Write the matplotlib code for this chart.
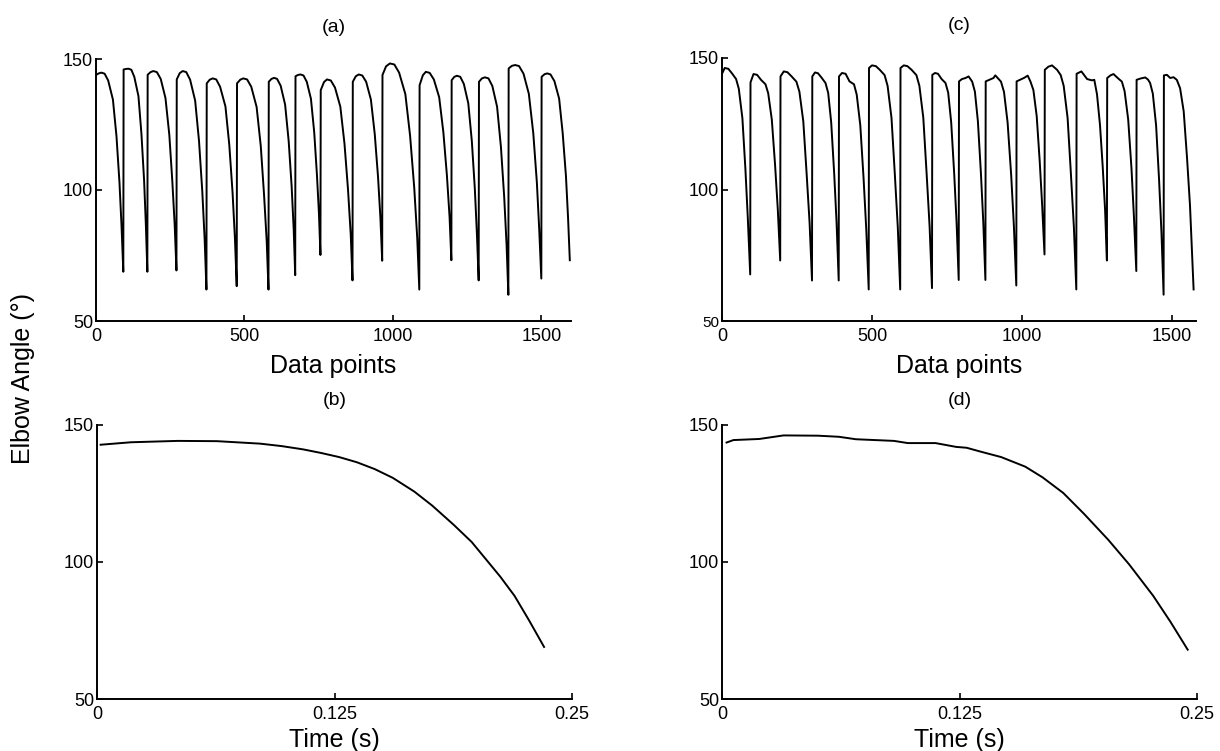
import numpy as np
import matplotlib.pyplot as plt

plt.rcParams['font.family'] = ['Liberation Sans', 'DejaVu Sans']

# (a) repeated elbow flexion cycles, one row per cycle: data point index / angle
a_x = [
    [0, 9, 18, 29, 41, 57, 69, 79, 86, 92],
    [93, 101, 109, 119, 129, 143, 153, 162, 168, 173],
    [174, 184, 193, 205, 218, 234, 247, 257, 265, 271],
    [272, 282, 292, 304, 317, 334, 347, 358, 366, 372],
    [373, 383, 393, 405, 418, 436, 449, 460, 468, 474],
    [475, 486, 496, 509, 523, 541, 555, 566, 575, 581],
    [582, 591, 600, 610, 622, 637, 649, 659, 666, 671],
    [672, 680, 689, 699, 710, 724, 735, 744, 751, 756],
    [757, 768, 778, 791, 805, 823, 837, 849, 858, 864],
    [865, 875, 885, 897, 910, 926, 939, 950, 958, 964],
    [965, 977, 990, 1005, 1021, 1042, 1058, 1072, 1082, 1089],
    [1090, 1101, 1111, 1124, 1138, 1156, 1170, 1182, 1191, 1197],
    [1198, 1207, 1216, 1227, 1239, 1254, 1266, 1276, 1283, 1289],
    [1290, 1300, 1310, 1322, 1335, 1351, 1364, 1375, 1383, 1389],
    [1390, 1401, 1412, 1425, 1440, 1458, 1473, 1485, 1493, 1500],
    [1501, 1511, 1520, 1531, 1544, 1560, 1572, 1583, 1590, 1596],
]
a_y = [
    [143.9, 144.5, 144.8, 144.4, 141.8, 134.5, 120.5, 103.0, 86.3, 68.8],
    [146.0, 146.2, 146.3, 145.9, 143.2, 135.8, 121.5, 103.7, 86.6, 68.8],
    [144.0, 145.0, 145.4, 145.0, 142.4, 135.1, 121.0, 103.5, 86.8, 69.3],
    [142.2, 144.6, 145.4, 145.0, 142.1, 134.1, 118.7, 99.5, 81.2, 62.0],
    [140.7, 142.1, 142.6, 142.2, 139.4, 131.9, 117.2, 99.0, 81.5, 63.3],
    [140.7, 142.1, 142.6, 142.2, 139.4, 131.7, 116.8, 98.3, 80.5, 62.0],
    [141.3, 142.4, 142.8, 142.4, 139.8, 132.6, 118.7, 101.4, 84.8, 67.5],
    [143.4, 143.9, 144.1, 143.7, 141.3, 134.8, 122.1, 106.2, 91.0, 75.2],
    [138.1, 141.2, 142.2, 141.8, 139.1, 131.8, 117.7, 100.0, 83.1, 65.5],
    [141.3, 143.4, 144.1, 143.7, 141.3, 134.5, 121.3, 105.0, 89.4, 73.0],
    [143.9, 147.2, 148.3, 147.9, 144.8, 136.6, 120.7, 100.8, 81.8, 62.0],
    [140.0, 143.8, 145.1, 144.7, 142.2, 135.4, 122.1, 105.6, 89.7, 73.2],
    [141.9, 143.2, 143.6, 143.2, 140.5, 133.1, 118.6, 100.6, 83.5, 65.5],
    [141.3, 142.6, 143.0, 142.6, 139.7, 131.8, 116.4, 97.3, 79.1, 60.0],
    [146.4, 147.4, 147.7, 147.3, 144.4, 136.7, 121.6, 102.9, 84.9, 66.2],
    [143.2, 144.2, 144.5, 144.1, 141.6, 134.9, 121.7, 105.3, 89.6, 73.2],
]

# (c) second recording, same layout
c_x = [
    [0, 9, 21, 33, 47, 56, 68, 78, 86, 94],
    [95, 105, 117, 130, 145, 154, 166, 177, 186, 194],
    [195, 206, 218, 232, 248, 258, 271, 282, 292, 300],
    [301, 310, 320, 332, 345, 354, 364, 374, 382, 389],
    [390, 400, 412, 425, 440, 449, 461, 472, 481, 489],
    [490, 500, 513, 526, 542, 552, 565, 576, 586, 594],
    [595, 606, 618, 632, 648, 658, 671, 682, 692, 700],
    [701, 710, 720, 732, 745, 754, 764, 774, 782, 789],
    [790, 800, 812, 822, 834, 843, 853, 863, 871, 878],
    [879, 893, 905, 911, 930, 940, 952, 964, 973, 981],
    [982, 995, 1008, 1019, 1028, 1038, 1049, 1059, 1067, 1075],
    [1076, 1088, 1100, 1117, 1129, 1139, 1152, 1163, 1173, 1181],
    [1182, 1198, 1217, 1233, 1241, 1250, 1260, 1269, 1277, 1283],
    [1284, 1295, 1305, 1318, 1333, 1342, 1354, 1365, 1373, 1381],
    [1382, 1395, 1411, 1420, 1427, 1436, 1447, 1457, 1465, 1472],
    [1473, 1483, 1494, 1505, 1516, 1527, 1539, 1550, 1560, 1572],
]
c_y = [
    [144.0, 146.2, 145.9, 144.2, 142.0, 138.3, 127.1, 107.8, 89.2, 67.7],
    [140.7, 143.9, 143.6, 141.7, 140.0, 136.6, 126.6, 109.2, 92.4, 73.0],
    [143.0, 144.9, 144.6, 143.0, 141.0, 137.2, 125.9, 106.2, 87.3, 65.4],
    [143.0, 144.5, 144.2, 142.5, 140.5, 136.7, 125.5, 106.0, 87.2, 65.4],
    [143.0, 144.3, 144.0, 141.1, 140.0, 136.1, 124.4, 104.1, 84.6, 62.0],
    [146.2, 147.2, 146.9, 145.5, 143.5, 139.4, 127.2, 106.0, 85.6, 62.0],
    [146.2, 147.2, 146.9, 145.5, 143.5, 139.4, 127.3, 106.2, 86.0, 62.5],
    [143.6, 144.3, 144.0, 142.0, 140.5, 136.8, 125.5, 106.0, 87.3, 65.6],
    [141.1, 142.0, 142.4, 143.0, 141.0, 137.2, 125.9, 106.3, 87.5, 65.6],
    [141.1, 141.8, 142.4, 143.4, 141.0, 137.1, 125.5, 105.3, 86.0, 63.5],
    [141.1, 141.8, 142.5, 143.3, 141.1, 137.8, 127.9, 110.8, 94.4, 75.3],
    [145.5, 146.7, 147.2, 145.5, 143.5, 139.4, 127.2, 106.0, 85.6, 62.0],
    [144.0, 144.9, 142.0, 141.5, 141.7, 136.2, 124.5, 108.7, 92.2, 73.0],
    [142.4, 143.4, 143.9, 142.5, 141.0, 137.4, 126.6, 107.9, 89.9, 69.0],
    [141.7, 142.2, 142.6, 141.8, 140.5, 136.5, 124.4, 103.5, 83.3, 60.0],
    [143.4, 143.6, 142.4, 142.7, 141.7, 138.5, 129.7, 112.2, 93.9, 62.0],
]

# (b) single cycle from (a), time in seconds
b_t = [0.0019, 0.0179, 0.0425, 0.0632, 0.0858, 0.0972, 0.1085, 0.1179,
       0.1274, 0.1368, 0.1462, 0.1557, 0.1670, 0.1764, 0.1877, 0.1972,
       0.2047, 0.2123, 0.2198, 0.2274, 0.2353]
b_y = [142.8, 143.7, 144.2, 144.1, 143.2, 142.3, 141.1, 139.8,
       138.3, 136.4, 133.9, 130.7, 125.7, 120.6, 113.6, 107.3,
       101.0, 94.6, 87.6, 78.7, 69.0]

# (d) single cycle from (c)
d_t = [0.0024, 0.0060, 0.0196, 0.0324, 0.0505, 0.0615, 0.0705, 0.0905,
       0.0978, 0.1124, 0.1233, 0.1287, 0.1360, 0.1469, 0.1596, 0.1687,
       0.1796, 0.1905, 0.2033, 0.2142, 0.2269, 0.2360, 0.2451]
d_y = [143.6, 144.5, 144.9, 146.2, 146.1, 145.7, 144.8, 144.2,
       143.4, 143.4, 142.0, 141.7, 140.3, 138.3, 134.8, 130.9,
       125.2, 117.6, 108.1, 99.2, 87.7, 78.2, 68.0]

W, H = 1220, 751
fig = plt.figure(figsize=(W / 100, H / 100), dpi=100)


def px_axes(left, top, right, bottom):
    return fig.add_axes([left / W, 1 - bottom / H, (right - left) / W, (bottom - top) / H])


def style(ax, xlim, xticks, xlabels):
    for s in ['top', 'right']:
        ax.spines[s].set_visible(False)
    for s in ['left', 'bottom']:
        ax.spines[s].set_linewidth(1.4)
    ax.set_xlim(*xlim)
    ax.set_ylim(50, 150)
    ax.set_xticks(xticks)
    ax.set_xticklabels(xlabels)
    ax.set_yticks([50, 100, 150])
    ax.tick_params(direction='in', length=4, width=1.2, labelsize=13)
    ax.tick_params(axis='x', pad=5)
    ax.tick_params(axis='y', pad=2)


ax_a = px_axes(96, 59, 571, 321)
ax_c = px_axes(722, 58, 1196, 321)
ax_b = px_axes(97, 425, 572, 699)
ax_d = px_axes(722, 425, 1197, 699)

ax_a.plot(np.concatenate(a_x), np.concatenate(a_y), color='black', lw=1.4)
ax_c.plot(np.concatenate(c_x), np.concatenate(c_y), color='black', lw=1.4)
ax_b.plot(b_t, b_y, color='black', lw=1.4)
ax_d.plot(d_t, d_y, color='black', lw=1.4)

style(ax_a, (0, 1600), [0, 500, 1000, 1500], ['0', '500', '1000', '1500'])
style(ax_c, (0, 1580), [0, 500, 1000, 1500], ['0', '500', '1000', '1500'])
style(ax_b, (0, 0.25), [0, 0.125, 0.25], ['0', '0.125', '0.25'])
style(ax_d, (0, 0.25), [0, 0.125, 0.25], ['0', '0.125', '0.25'])
ax_c.get_yticklabels()[0].set_fontsize(11)

for ax, lab, ly, ty in [(ax_a, 'Data points', -0.172, 1.122),
                        (ax_c, 'Data points', -0.172, 1.122),
                        (ax_b, 'Time (s)', -0.150, 1.091),
                        (ax_d, 'Time (s)', -0.150, 1.091)]:
    ax.set_xlabel(lab, fontsize=18)
    ax.xaxis.label.set_va('center')
    ax.xaxis.set_label_coords(0.5, ly)
    title = {ax_a: '(a)', ax_b: '(b)', ax_c: '(c)', ax_d: '(d)'}[ax]
    ax.text(0.5, ty, title, transform=ax.transAxes, fontsize=14,
            ha='center', va='center')

fig.text(23 / W, 1 - 378 / H, 'Elbow Angle (°)', rotation=90, fontsize=18,
         ha='center', va='center')

fig.savefig('out.png', dpi=100)
